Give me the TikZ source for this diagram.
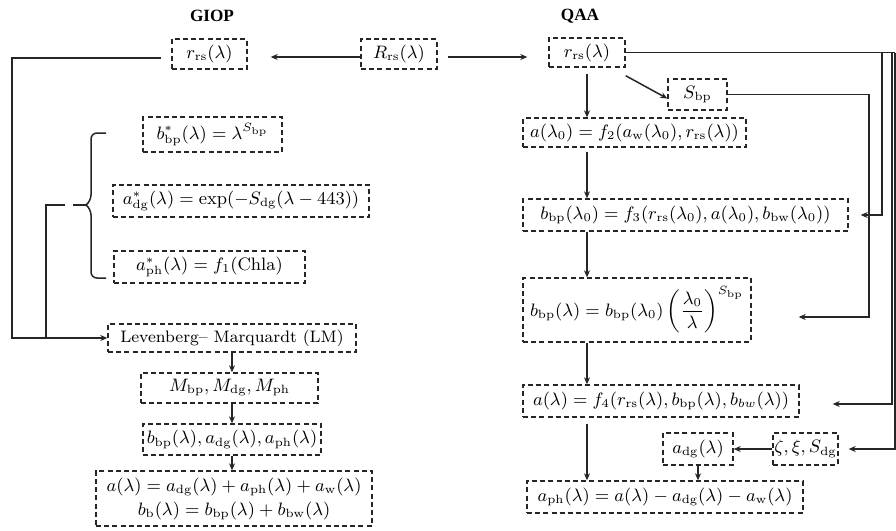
\documentclass[tikz,border=0pt]{standalone}
\usepackage{amsmath}
\usepackage{fontspec}
\newfontfamily\titlefont{Liberation Serif}
\usetikzlibrary{arrows.meta,calc}
\begin{document}
\begin{tikzpicture}[x=0.5pt,y=-0.5pt,
  font=\fontsize{9}{11}\selectfont,
  box/.style={draw=black!85, dash pattern=on 2.5pt off 1.6pt, line width=0.7pt, inner sep=0pt, align=center},
  wh/.style 2 args={minimum width=#1*0.5pt, minimum height=#2*0.5pt},
  conn/.style={line width=0.75pt, draw=black!85},
  arr/.style={conn, -{Stealth[length=3.5pt,width=3pt]}},
  ttl/.style={font=\titlefont\fontsize{8.6}{10}\selectfont\bfseries}]
\useasboundingbox (0,0) rectangle (896,531);

% titles
\node[ttl] (giop) at (212,16) {GIOP};
\node[ttl] (qaa) at (580,16) {QAA};

% GIOP column
\node[box, wh={75}{30}] (rrsG) at (209.5,54) {$r_{\mathrm{rs}}(\lambda)$};
\node[box, wh={76}{30}] (Rrs) at (399,54) {$R_{\mathrm{rs}}(\lambda)$};
\node[box, wh={139}{35}] (bstar) at (212.5,134.5) {$b^*_{\mathrm{bp}}(\lambda) = \lambda^{S_{\mathrm{bp}}}$};
\node[box, wh={256}{32}] (adgstar) at (241,201) {$a^*_{\mathrm{dg}}(\lambda) = \exp(-S_{\mathrm{dg}}(\lambda - 443))$};
\node[box, wh={191}{32}] (aphstar) at (209.5,267) {$a^*_{\mathrm{ph}}(\lambda) = f_1(\mathrm{Chla})$};
\node[box, wh={248}{28}, font=\fontsize{8.3}{10}\selectfont] (LM) at (232,338) {Levenberg– Marquardt (LM)};
\node[box, wh={177}{30}] (M) at (229.5,388) {$M_{\mathrm{bp}}, M_{\mathrm{dg}}, M_{\mathrm{ph}}$};
\node[box, wh={178}{31}] (bl) at (232,439.5) {$b_{\mathrm{bp}}(\lambda), a_{\mathrm{dg}}(\lambda), a_{\mathrm{ph}}(\lambda)$};
\node[box, wh={276}{55}] (fin) at (234,498.5) {$a(\lambda) = a_{\mathrm{dg}}(\lambda) + a_{\mathrm{ph}}(\lambda) + a_{\mathrm{w}}(\lambda)$\\[1pt]
  $b_{\mathrm{b}}(\lambda) = b_{\mathrm{bp}}(\lambda) + b_{\mathrm{bw}}(\lambda)$};

% QAA column
\node[box, wh={76}{29}] (rrsQ) at (587,52.5) {$r_{\mathrm{rs}}(\lambda)$};
\node[box, wh={59}{31}] (Sbp) at (697.5,94.5) {$S_{\mathrm{bp}}$};
\node[box, wh={223}{29}] (a0) at (634.5,132.5) {$a(\lambda_0) = f_2(a_{\mathrm{w}}(\lambda_0), r_{\mathrm{rs}}(\lambda))$};
\node[box, wh={325}{32}] (bbp0) at (685.5,215) {$b_{\mathrm{bp}}(\lambda_0) = f_3(r_{\mathrm{rs}}(\lambda_0), a(\lambda_0), b_{\mathrm{bw}}(\lambda_0))$};
\node[box, wh={228}{64}] (bbpl) at (637,310) {$b_{\mathrm{bp}}(\lambda) = b_{\mathrm{bp}}(\lambda_0)\left(\dfrac{\lambda_0}{\lambda}\right)^{S_{\mathrm{bp}}}$};
\node[box, wh={276}{32}] (al) at (661,401) {$a(\lambda) = f_4(r_{\mathrm{rs}}(\lambda), b_{\mathrm{bp}}(\lambda), b_{bw}(\lambda))$};
\node[box, wh={70}{32}] (adg) at (698,449) {$a_{\mathrm{dg}}(\lambda)$};
\node[box, wh={65}{32}] (zeta) at (805.5,449) {$\zeta, \xi, S_{\mathrm{dg}}$};
\node[box, wh={276}{32}] (aph) at (665,497) {$a_{\mathrm{ph}}(\lambda) = a(\lambda) - a_{\mathrm{dg}}(\lambda) - a_{\mathrm{w}}(\lambda)$};

% top arrows
\coordinate (topy) at (0,57);
\draw[arr, shorten >=11.5pt] (Rrs.west |- topy) -- (rrsG.east |- topy);
\draw[arr, shorten <=5pt, shorten >=10.5pt] (Rrs.east |- topy) -- (rrsQ.west |- topy);

% GIOP loop
\coordinate (loopL) at (12,58);
\draw[arr, shorten <=5pt] (rrsG.west |- loopL) -- (loopL) |- (LM.west);
% brace
\draw[conn, rounded corners=3pt] (106,133) -- (91,133) -- (91,201) -- (86,205);
\draw[conn, rounded corners=3pt] (106,278) -- (91,278) -- (91,209) -- (86,205);
\coordinate (btip) at (73,205);
\draw[conn] (btip) -- (86,205);
\coordinate (bstub) at (65,205);
\coordinate (bcorner) at (46,205);
\draw[conn] (bstub) -- (bcorner) -- (bcorner |- LM.west);

% GIOP vertical flow
\draw[arr] (LM.south) -- (LM.south |- M.north);
\draw[arr] (M.south -| LM) -- (bl.north -| LM);
\draw[arr] (bl.south -| LM) -- (fin.north -| LM);

% QAA vertical flow
\draw[arr, shorten <=3pt] (rrsQ.south) -- (rrsQ.south |- a0.north);
\draw[arr, shorten <=2pt] (a0.south -| rrsQ) -- (bbp0.north -| rrsQ);
\draw[arr] (bbp0.south -| rrsQ) -- (bbpl.north -| rrsQ);
\draw[arr] (bbpl.south -| rrsQ) -- (al.north -| rrsQ);
\draw[arr, shorten <=3pt] (al.south -| rrsQ) -- (aph.north -| rrsQ);
\draw[arr] ($(rrsQ.south east)+(0,8)$) -- ($(Sbp.west)+(0,4)$);
\draw[arr] (zeta.west) -- (adg.east);
\draw[arr] (adg.south) -- (adg.south |- aph.north);

% right-side feeders
\coordinate (e1) at (882,0);
\coordinate (e2) at (892,0);
\coordinate (e3) at (894.8,0);
\coordinate (s2) at (869,317);
\coordinate (a2) at (892,404);
\draw[conn] (rrsQ.east) -- (rrsQ.east -| e3);
\draw[arr, shorten >=6pt] (rrsQ.east -| e1) |- (bbp0.east);
\draw[arr, shorten >=16.5pt] (rrsQ.east -| e2) -- (a2) -- (a2 -| al.east);
\draw[arr, shorten >=5pt] (rrsQ.east -| e3) |- (zeta.east);
\draw[arr, shorten >=23.5pt] (Sbp.east) -| (s2) -- (s2 -| bbpl.east);
\end{tikzpicture}
\end{document}
